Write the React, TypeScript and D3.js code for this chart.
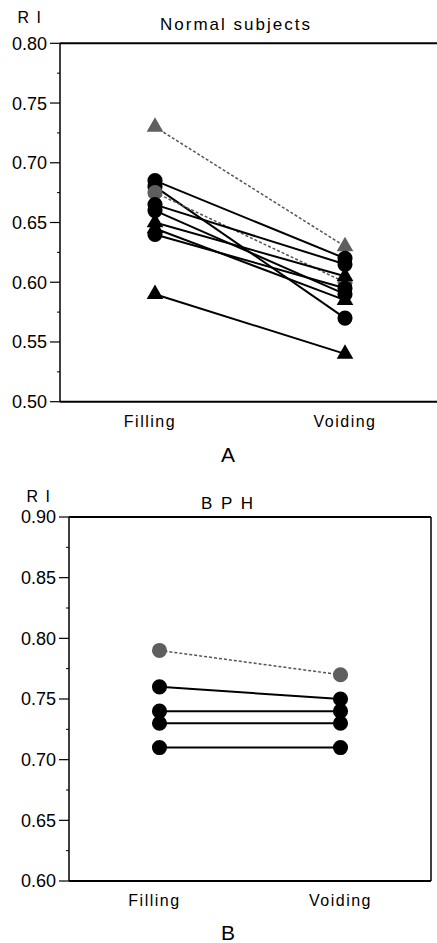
import React from "react";
import { scaleLinear, scalePoint, symbol, symbolCircle, symbolTriangle, range } from "d3";

// phases on the x axis
const phases = ["Filling", "Voiding"];

// panel A: normal subjects (RI during filling / voiding)
const normalFilling = [0.73, 0.685, 0.68, 0.675, 0.665, 0.66, 0.65, 0.645, 0.64, 0.59];
const normalVoiding = [0.63, 0.62, 0.57, 0.60, 0.615, 0.59, 0.605, 0.585, 0.595, 0.54];
const normalMarker = ["tri", "circle", "circle", "circle", "circle", "circle", "tri", "tri", "circle", "tri"];
const normalGray = [true, false, false, true, false, false, false, false, false, false];

// panel B: BPH
const bphFilling = [0.79, 0.76, 0.74, 0.73, 0.71];
const bphVoiding = [0.77, 0.75, 0.74, 0.73, 0.71];
const bphMarker = ["circle", "circle", "circle", "circle", "circle"];
const bphGray = [true, false, false, false, false];

const FONT = "'Liberation Sans', Arial, Helvetica, sans-serif";

interface PanelProps {
  title: string;
  titleX: number;
  letter: string;
  filling: number[];
  voiding: number[];
  markers: string[];
  gray: boolean[];
  yDomain: [number, number];
  top: number;
  bottom: number;
  left: number;
  right: number;
  rightBorder: boolean;
  labelY: number;
  letterY: number;
  titleY: number;
}

function Panel(p: PanelProps) {
  const x = scalePoint<string>().domain(phases).range([p.left, p.right]).padding(0.5);
  const y = scaleLinear().domain(p.yDomain).range([p.bottom, p.top]);
  const majors = range(0, 7).map((i) => p.yDomain[0] + i * 0.05);
  const minors = range(0, 6).map((i) => p.yDomain[0] + 0.025 + i * 0.05);
  const circ = symbol().type(symbolCircle).size(180)()!;
  const tri = symbol().type(symbolTriangle).size(120)()!;

  return (
    <g>
      {/* axis title + panel title */}
      <text x={p.left - 30} y={p.titleY} fontSize={16} fontFamily={FONT} letterSpacing={1.5} textAnchor="middle">
        R I
      </text>
      <text x={p.titleX} y={p.titleY + 7} fontSize={17} fontFamily={FONT} letterSpacing={2} textAnchor="middle">
        {p.title}
      </text>

      {/* frame */}
      <line x1={p.left} x2={p.left} y1={p.top} y2={p.bottom} stroke="#000" strokeWidth={1.5} />
      <line x1={p.left} x2={p.right} y1={p.top} y2={p.top} stroke="#000" strokeWidth={2} />
      <line x1={p.left} x2={p.right} y1={p.bottom} y2={p.bottom} stroke="#000" strokeWidth={2} />
      {p.rightBorder && <line x1={p.right} x2={p.right} y1={p.top} y2={p.bottom} stroke="#000" strokeWidth={1.5} />}

      {/* y ticks */}
      {majors.map((v, i) => (
        <g key={i} transform={`translate(0,${y(v)})`}>
          <line x1={p.left - 10} x2={p.left} stroke="#000" strokeWidth={1.2} />
          <text x={p.left - 13} dy="0.36em" fontSize={18} fontFamily={FONT} textAnchor="end">
            {v.toFixed(2)}
          </text>
        </g>
      ))}
      {minors.map((v, i) => (
        <line key={i} x1={p.left - 3} x2={p.left} y1={y(v)} y2={y(v)} stroke="#000" strokeWidth={1} />
      ))}

      {/* x labels */}
      {phases.map((c, i) => (
        <text key={c} x={x(c)! + (i === 0 ? -5 : 0)} y={p.labelY} fontSize={16} fontFamily={FONT} letterSpacing={1.5} textAnchor="middle">
          {c}
        </text>
      ))}
      <text x={228} y={p.letterY} fontSize={21} fontFamily={FONT} textAnchor="middle">
        {p.letter}
      </text>

      {/* lines */}
      {p.filling.map((f, i) => (
        <line
          key={i}
          x1={x("Filling")}
          x2={x("Voiding")}
          y1={y(f)}
          y2={y(p.voiding[i])}
          stroke={p.gray[i] ? "#555" : "#000"}
          strokeWidth={p.gray[i] ? 1.5 : 2}
          strokeDasharray={p.gray[i] ? "3,2" : undefined}
        />
      ))}

      {/* markers */}
      {p.filling.map((f, i) =>
        [f, p.voiding[i]].map((v, j) => (
          <path
            key={`${i}-${j}`}
            d={p.markers[i] === "tri" ? tri : circ}
            transform={`translate(${x(phases[j])},${y(v)})`}
            fill={p.gray[i] ? "#5f5f5f" : "#000"}
          />
        ))
      )}
    </g>
  );
}

export default function App() {
  return (
    <svg width={437} height={943} style={{ position: "absolute", left: 0, top: 0, background: "#fff" }}>
      <rect width={437} height={943} fill="#fff" />
      <Panel
        title="Normal subjects"
        titleX={236}
        letter="A"
        filling={normalFilling}
        voiding={normalVoiding}
        markers={normalMarker}
        gray={normalGray}
        yDomain={[0.5, 0.8]}
        top={43.3}
        bottom={401.7}
        left={60}
        right={440}
        rightBorder={false}
        labelY={427}
        letterY={462}
        titleY={23}
      />
      <Panel
        title="B P H"
        titleX={228}
        letter="B"
        filling={bphFilling}
        voiding={bphVoiding}
        markers={bphMarker}
        gray={bphGray}
        yDomain={[0.6, 0.9]}
        top={517}
        bottom={881}
        left={69}
        right={431}
        rightBorder={true}
        labelY={906}
        letterY={940}
        titleY={502}
      />
    </svg>
  );
}
